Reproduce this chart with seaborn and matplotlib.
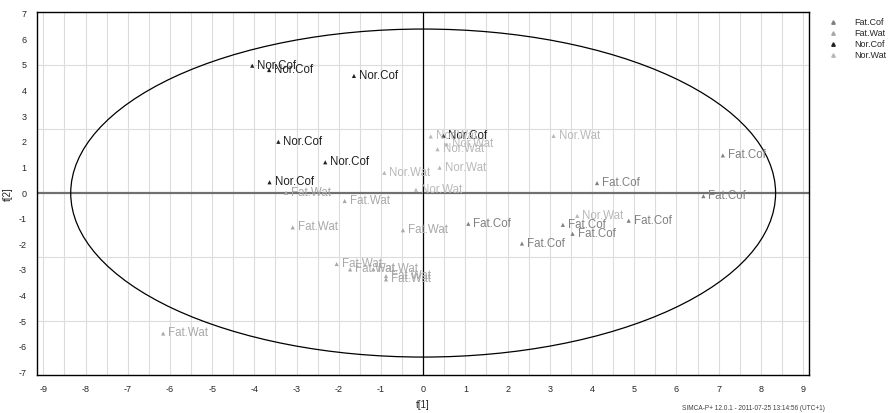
import numpy as np
import pandas as pd
import matplotlib
matplotlib.use("Agg")
import matplotlib.pyplot as plt
from matplotlib.patches import Ellipse
from matplotlib.ticker import MultipleLocator
import seaborn as sns

# score values
fat_cof_t1 = [1.07, 2.34, 3.31, 3.54, 4.87, 7.10, 6.64, 4.12]
fat_cof_t2 = [-1.20, -1.97, -1.24, -1.59, -1.08, 1.47, -0.12, 0.39]
fat_wat_t1 = [-3.25, -1.86, -3.09, -0.48, -2.05, -1.73, -1.18, -0.88, -0.88, -6.16]
fat_wat_t2 = [0.01, -0.31, -1.34, -1.45, -2.77, -2.98, -2.97, -3.24, -3.37, -5.48]
nor_cof_t1 = [-4.05, -3.65, -1.64, -3.43, -2.32, -3.64, 0.48]
nor_cof_t2 = [4.97, 4.80, 4.57, 2.00, 1.20, 0.42, 2.24]
nor_wat_t1 = [0.18, 0.56, 0.34, 0.39, -0.17, 3.09, -0.92, 3.65]
nor_wat_t2 = [2.21, 1.90, 1.71, 0.99, 0.13, 2.23, 0.79, -0.89]

groups = ["Fat.Cof", "Fat.Wat", "Nor.Cof", "Nor.Wat"]
colors = {"Fat.Cof": "#808080", "Fat.Wat": "#a8a8a8",
          "Nor.Cof": "#202020", "Nor.Wat": "#b8b8b8"}

df = pd.concat([
    pd.DataFrame({"t1": fat_cof_t1, "t2": fat_cof_t2, "obs": "Fat.Cof"}),
    pd.DataFrame({"t1": fat_wat_t1, "t2": fat_wat_t2, "obs": "Fat.Wat"}),
    pd.DataFrame({"t1": nor_cof_t1, "t2": nor_cof_t2, "obs": "Nor.Cof"}),
    pd.DataFrame({"t1": nor_wat_t1, "t2": nor_wat_t2, "obs": "Nor.Wat"}),
], ignore_index=True)

sns.set_style("white")
plt.rcParams["font.family"] = ["Liberation Sans", "DejaVu Sans"]
plt.rcParams["axes.unicode_minus"] = False

fig = plt.figure(figsize=(8.95, 4.13), dpi=100)
ax = fig.add_axes([0.0413, 0.092, 0.863, 0.878])

ax.set_xlim(-9.15, 9.15)
ax.set_ylim(-7.1, 7.05)

# grid like SIMCA: vertical every 0.5, horizontal every 2.5
for gx in np.arange(-9, 9.01, 0.5):
    ax.axvline(gx, color="#dcdcdc", lw=0.8, zorder=0)
for gy in [-5, -2.5, 2.5, 5]:
    ax.axhline(gy, color="#dcdcdc", lw=0.8, zorder=0)
ax.axhline(0, color="#707070", lw=1.6, zorder=1)
ax.axvline(0, color="black", lw=0.9, zorder=1)

ax.add_patch(Ellipse((0, 0), 2 * 8.35, 2 * 6.4, fill=False,
                     edgecolor="black", lw=0.9, zorder=2))

sns.scatterplot(data=df, x="t1", y="t2", hue="obs", hue_order=groups,
                palette=colors, marker="^", s=9, linewidth=0, ax=ax,
                zorder=3, legend=False)

for _, r in df.iterrows():
    ax.text(r.t1 + 0.12, r.t2, r.obs, color=colors[r.obs], fontsize=8.3,
            va="center", ha="left", zorder=4)

ax.xaxis.set_major_locator(MultipleLocator(1))
ax.xaxis.set_minor_locator(MultipleLocator(0.5))
ax.yaxis.set_major_locator(MultipleLocator(1))
ax.yaxis.set_minor_locator(MultipleLocator(0.5))
ax.tick_params(axis="both", which="both", direction="inout", length=3,
               width=0.8, labelsize=6.5, color="black", pad=6)
ax.tick_params(top=False, right=False)
for sp in ax.spines.values():
    sp.set_color("black")
    sp.set_linewidth(1.0)

ax.set_xlabel("t[1]", fontsize=7, labelpad=4)
ax.set_ylabel("t[2]", fontsize=7, labelpad=4)

handles = [plt.Line2D([], [], marker="^", ls="", color=colors[g],
                      markersize=2.5) for g in groups]
fig.legend(handles, groups, loc="upper left", bbox_to_anchor=(0.918, 0.975),
           frameon=False, fontsize=6.5, handletextpad=1.9, labelspacing=0.2,
           handlelength=0.8)

fig.text(0.922, 0.003, "SIMCA-P+ 12.0.1 - 2011-07-25 13:14:56 (UTC+1)",
         fontsize=4.7, ha="right", va="bottom", color="#404040")

fig.savefig("out.png", dpi=100)
